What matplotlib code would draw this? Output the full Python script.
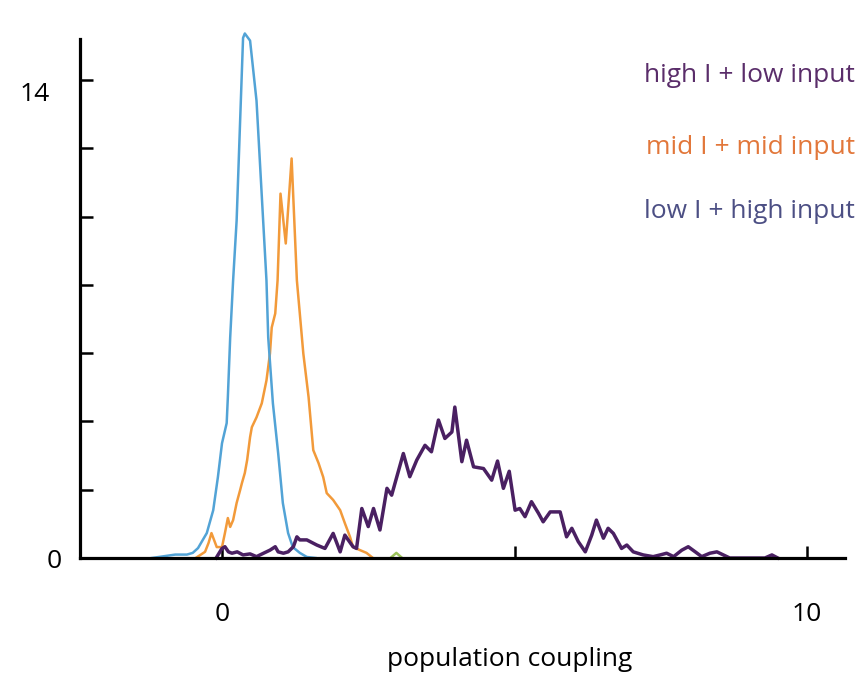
import matplotlib
matplotlib.use('Agg')
import matplotlib.pyplot as plt
from matplotlib.transforms import ScaledTranslation

plt.rcParams['font.family'] = ['Open Sans', 'DejaVu Sans']

# low I + high input (blue)
blue_x = [-1.2, -1.0, -0.8, -0.6, -0.5, -0.41, -0.26, -0.15, -0.07, 0.0, 0.08, 0.10,
          0.14, 0.19, 0.25, 0.31, 0.36, 0.39, 0.48, 0.59, 0.76, 0.79, 0.87, 0.96,
          1.04, 1.13, 1.21, 1.33, 1.45, 1.6]
blue_y = [0.0, 0.05, 0.1, 0.1, 0.15, 0.29, 0.73, 1.40, 2.37, 3.36, 3.95, 4.71,
          6.46, 8.13, 9.88, 12.81, 15.23, 15.36, 15.15, 13.39, 8.13, 6.46, 4.53, 3.07,
          1.61, 0.73, 0.32, 0.15, 0.03, 0.0]

# mid I + mid input (orange)
orange_x = [-0.45, -0.29, -0.23, -0.18, -0.09, 0.0, 0.05, 0.10, 0.14, 0.19, 0.25, 0.31,
            0.34, 0.39, 0.43, 0.48, 0.51, 0.59, 0.68, 0.76, 0.82, 0.85, 0.91, 0.95,
            1.0, 1.09, 1.19, 1.28, 1.33, 1.39, 1.48, 1.56, 1.65, 1.73, 1.79, 1.90,
            2.02, 2.10, 2.19, 2.24, 2.36, 2.47, 2.58]
orange_y = [0.0, 0.18, 0.44, 0.73, 0.32, 0.32, 0.73, 1.17, 0.91, 1.11, 1.61, 1.99,
            2.19, 2.49, 2.87, 3.54, 3.83, 4.12, 4.53, 5.20, 5.99, 6.75, 7.16, 8.13,
            10.67, 9.21, 11.70, 8.13, 7.16, 5.99, 4.71, 3.16, 2.78, 2.37, 1.90, 1.70,
            1.40, 1.02, 0.61, 0.32, 0.23, 0.15, 0.0]

# high I + low input (purple)
purple_x = [-0.10, 0.0, 0.05, 0.11, 0.17, 0.26, 0.36, 0.48, 0.59, 0.71, 0.82, 0.91,
            0.96, 1.05, 1.13, 1.22, 1.28, 1.33, 1.45, 1.62, 1.76, 1.90, 2.02, 2.10,
            2.24, 2.30, 2.39, 2.50, 2.59, 2.70, 2.82, 2.90, 3.10, 3.21, 3.33, 3.47,
            3.58, 3.70, 3.81, 3.93, 3.98, 4.10, 4.18, 4.30, 4.47, 4.61, 4.71, 4.81,
            4.91, 5.01, 5.09, 5.18, 5.29, 5.41, 5.49, 5.61, 5.78, 5.89, 5.98, 6.09,
            6.21, 6.32, 6.40, 6.52, 6.60, 6.69, 6.83, 6.92, 7.03, 7.20, 7.37, 7.49,
            7.60, 7.72, 7.86, 7.97, 8.09, 8.20, 8.34, 8.46, 8.57, 8.68, 9.28, 9.40, 9.50]
purple_y = [0.0, 0.28, 0.33, 0.18, 0.14, 0.18, 0.09, 0.12, 0.04, 0.14, 0.23, 0.33,
            0.18, 0.14, 0.18, 0.33, 0.62, 0.53, 0.53, 0.38, 0.28, 0.72, 0.18, 0.67,
            0.33, 0.28, 1.45, 0.92, 1.45, 0.82, 2.04, 1.84, 3.06, 2.38, 2.87, 3.30,
            3.11, 4.04, 3.50, 3.69, 4.42, 2.82, 3.45, 2.67, 2.62, 2.28, 2.84, 2.04,
            2.54, 1.40, 1.45, 1.21, 1.65, 1.31, 1.06, 1.35, 1.35, 0.62, 0.87, 0.48,
            0.18, 0.67, 1.11, 0.58, 0.87, 0.72, 0.28, 0.38, 0.18, 0.09, 0.04, 0.09,
            0.14, 0.04, 0.23, 0.33, 0.18, 0.04, 0.14, 0.18, 0.09, 0.0, 0.0, 0.09, 0.0]

# tiny green blip
green_x = [2.88, 2.98, 3.08]
green_y = [0.0, 0.15, 0.0]

labels = ['high I + low input', 'mid I + mid input', 'low I + high input']
label_colors = ['#5a2d6a', '#e2773a', '#4c4f84']
label_rows = [75, 147, 211]

fig = plt.figure(figsize=(8.6, 6.81), dpi=100)
ax = fig.add_axes([80 / 860, 1 - 558 / 681, (845 - 80) / 860, (558 - 28.7) / 681])

ax.plot(orange_x, orange_y, color='#f29a3a', lw=1.8, clip_on=False)
ax.plot(blue_x, blue_y, color='#52a3d6', lw=1.8, clip_on=False)
ax.plot(green_x, green_y, color='#9bc25a', lw=1.8, clip_on=False)
ax.plot(purple_x, purple_y, color='#4a2062', lw=2.5, clip_on=False)

ax.set_xlim((80 - 222) / 58.5, (845 - 222) / 58.5)
ax.set_ylim(0, 15.5)

ax.spines['top'].set_visible(False)
ax.spines['right'].set_visible(False)
for s in ['left', 'bottom']:
    ax.spines[s].set_linewidth(2.3)
ax.spines['left'].set_bounds(0, 15.2)

ax.set_yticks(range(0, 15, 2))
ax.set_yticklabels(['0', '', '', '', '', '', '', '14'])
ax.set_xticks([0, 5, 10])
ax.set_xticklabels(['0', '', '10'])
ax.tick_params(axis='both', direction='in', length=9, width=1.8, labelsize=19)
ax.tick_params(axis='y', pad=13)
ax.tick_params(axis='x', pad=32)

# the "14" label sits a little left of and below its tick
ylabs = ax.get_yticklabels()
ylabs[-1].set_transform(ylabs[-1].get_transform()
                        + ScaledTranslation(-12 / 100, -12 / 100, fig.dpi_scale_trans))

ax.set_xlabel('population coupling', fontsize=19)
ax.xaxis.set_label_coords((510 - 80) / (845 - 80), -0.168)

for txt, c, row in zip(labels, label_colors, label_rows):
    fig.text(855 / 860, 1 - row / 681, txt, color=c, fontsize=19,
             ha='right', va='center')

fig.savefig('out.png', dpi=100)
